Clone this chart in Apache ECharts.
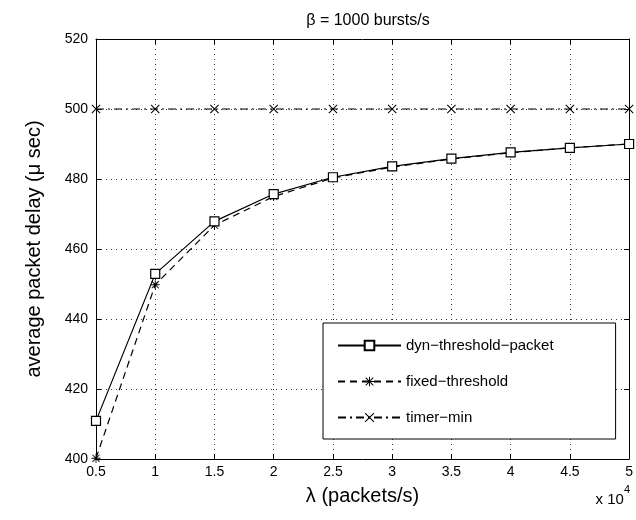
<!DOCTYPE html>
<html>
<head>
<meta charset="utf-8">
<script src="https://cdn.jsdelivr.net/npm/echarts@6/dist/echarts.min.js"></script>
<style>
  html, body { margin: 0; padding: 0; background: #fff; }
  #chart { width: 636px; height: 520px; }
</style>
</head>
<body>
<div id="chart"></div>
<script>
// lambda values, in units of 10^4 packets/s
var lambdaVals = [0.5, 1, 1.5, 2, 2.5, 3, 3.5, 4, 4.5, 5];
var dynThreshold = [410.9, 452.9, 467.9, 475.7, 480.5, 483.6, 485.8, 487.6, 488.9, 490.0];
var fixedThreshold = [400.2, 449.8, 466.8, 475.0, 480.3, 483.4, 485.7, 487.5, 488.9, 490.0];
var timerMin = [500, 500, 500, 500, 500, 500, 500, 500, 500, 500];
var seriesNames = ['dyn\u2212threshold\u2212packet', 'fixed\u2212threshold', 'timer\u2212min'];

var FONT = 'Liberation Sans, Arial, sans-serif';
var asterisk = 'path://M9 0H11V20H9Z M0 9H20V11H0Z M1.4 2.8L2.8 1.4L18.6 17.2L17.2 18.6Z M17.2 1.4L18.6 2.8L2.8 18.6L1.4 17.2Z';
var cross = 'path://M1.4 2.8L2.8 1.4L18.6 17.2L17.2 18.6Z M17.2 1.4L18.6 2.8L2.8 18.6L1.4 17.2Z';

function pairs(ys) {
  return lambdaVals.map(function (x, i) { return [x, ys[i]]; });
}

var chart = echarts.init(document.getElementById('chart'));

// top / right edges of the box, ticks only
var boxAxis = {
  type: 'value',
  axisLine: { show: true, lineStyle: { color: '#000', width: 1 } },
  axisTick: { show: true, inside: true, length: 5, lineStyle: { color: '#000' } },
  axisLabel: { show: false },
  splitLine: { show: false }
};

chart.setOption({
  animation: false,
  backgroundColor: '#fff',
  title: {
    text: '\u03b2 = 1000 bursts/s',
    left: 363,
    textAlign: 'center',
    top: 8,
    textStyle: { fontFamily: FONT, fontSize: 16, fontWeight: 'normal', color: '#000' }
  },
  grid: { left: 96, right: 6, top: 39, bottom: 61 },
  legend: {
    orient: 'vertical',
    left: 323,
    top: 323,
    data: seriesNames,
    itemWidth: 63,
    itemHeight: 12,
    itemGap: 21,
    padding: [15, 62, 14, 14],
    borderColor: '#000',
    borderWidth: 1,
    backgroundColor: '#fff',
    textStyle: { fontFamily: FONT, fontSize: 15, color: '#000' }
  },
  xAxis: [{
    type: 'value',
    min: 0.5,
    max: 5,
    interval: 0.5,
    name: '\u03bb (packets/s)',
    nameLocation: 'middle',
    nameGap: 27,
    nameTextStyle: { fontFamily: FONT, fontSize: 20, color: '#000' },
    axisLine: { show: true, lineStyle: { color: '#000', width: 1 } },
    axisTick: { show: true, inside: true, length: 5, lineStyle: { color: '#000' } },
    axisLabel: { fontFamily: FONT, fontSize: 14, color: '#000', margin: 6 },
    splitLine: { show: true, lineStyle: { color: '#333', type: [1, 4], width: 1 } }
  }, Object.assign({}, boxAxis, { position: 'top', min: 0.5, max: 5, interval: 0.5 })],
  yAxis: [{
    type: 'value',
    min: 400,
    max: 520,
    interval: 20,
    name: 'average packet delay (\u03bc sec)',
    nameLocation: 'middle',
    nameGap: 52,
    nameTextStyle: { fontFamily: FONT, fontSize: 20, color: '#000' },
    axisLine: { show: true, lineStyle: { color: '#000', width: 1 } },
    axisTick: { show: true, inside: true, length: 5, lineStyle: { color: '#000' } },
    axisLabel: { fontFamily: FONT, fontSize: 14, color: '#000', margin: 8 },
    splitLine: { show: true, lineStyle: { color: '#333', type: [1, 4], width: 1 } }
  }, Object.assign({}, boxAxis, { position: 'right', min: 400, max: 520, interval: 20 })],
  graphic: [{
    type: 'text',
    right: 6,
    top: 484,
    style: {
      text: '{b|x 10}{s|4}',
      rich: {
        b: { fontFamily: FONT, fontSize: 15, fill: '#000', padding: [8, 0, 0, 0] },
        s: { fontFamily: FONT, fontSize: 11, fill: '#000', verticalAlign: 'top' }
      }
    }
  }],
  series: [{
    name: seriesNames[0],
    type: 'line',
    data: pairs(dynThreshold),
    symbol: 'rect',
    symbolSize: 9,
    lineStyle: { color: '#000', width: 1.2, type: 'solid' },
    itemStyle: { color: '#fff', borderColor: '#000', borderWidth: 1.2 },
    z: 4
  }, {
    name: seriesNames[1],
    type: 'line',
    data: pairs(fixedThreshold),
    symbol: asterisk,
    symbolSize: 9,
    lineStyle: { color: '#000', width: 1.2, type: [7, 5] },
    itemStyle: { color: '#000', borderWidth: 0 },
    z: 3
  }, {
    name: seriesNames[2],
    type: 'line',
    data: pairs(timerMin),
    symbol: cross,
    symbolSize: 9,
    lineStyle: { color: '#000', width: 1.2, type: [8, 4, 2, 4] },
    itemStyle: { color: '#000', borderWidth: 0 },
    z: 3
  }]
});
</script>
</body>
</html>
